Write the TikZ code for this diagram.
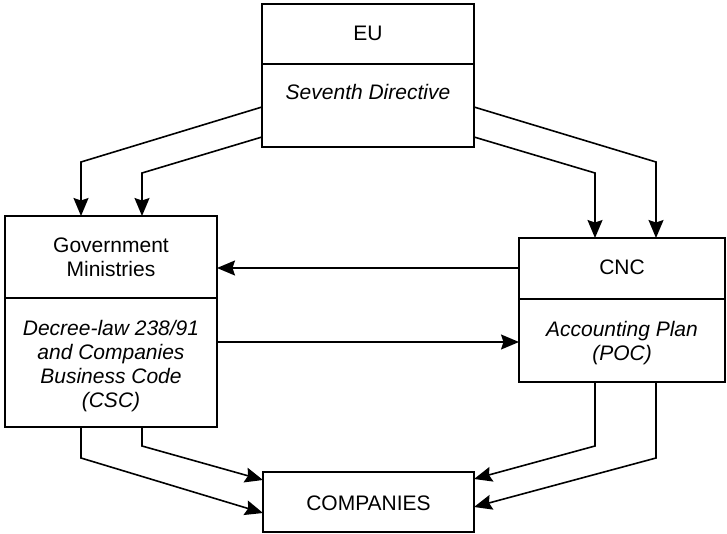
\documentclass[tikz,border=0pt]{standalone}
\usepackage{fontspec}
\setmainfont{Liberation Sans}
\usetikzlibrary{arrows.meta}
\begin{document}
\begin{tikzpicture}[x=1pt,y=-1pt,
  box/.style={draw,line width=1.7pt,inner sep=0pt,outer sep=0pt},
  lbl/.style={inner sep=0pt,align=center,font=\fontsize{21}{24}\selectfont},
  ilbl/.style={lbl,font=\fontsize{21}{24}\selectfont\itshape},
  sep/.style={line width=1.7pt},
  arr/.style={line width=1.6pt,-{Stealth[length=18pt,width=15pt,inset=2.5pt]}}]
\useasboundingbox (0,0) rectangle (727,534);
% boxes
\node[box,minimum width=212pt,minimum height=143pt] (eu) at (368,75.5) {};
\node[box,minimum width=212pt,minimum height=211pt] (gov) at (111,321.5) {};
\node[box,minimum width=206pt,minimum height=144pt] (cnc) at (622,310) {};
\node[box,minimum width=211pt,minimum height=60pt] (comp) at (368.5,502) {};
% dividers
\draw[sep] (eu.west |- 0,64) -- (eu.east |- 0,64);
\draw[sep] (gov.west |- 0,298) -- (gov.east |- 0,298);
\draw[sep] (cnc.west |- 0,299) -- (cnc.east |- 0,299);
% labels
\node[lbl,anchor=base] (eut) at (368,41) {EU};
\node[ilbl,anchor=base] (eud) at (368,100) {Seventh Directive};
\node[lbl] (govt) at (111,257) {Government\\Ministries};
\node[ilbl] (govd) at (111,366) {Decree-law 238/91\\and Companies\\Business Code\\(CSC)};
\node[lbl,anchor=base] (cnct) at (622,274) {CNC};
\node[ilbl] (cncd) at (622,343) {Accounting Plan\\(POC)};
\node[lbl,anchor=base] (compt) at (368.5,510) {COMPANIES};
% EU -> Government
\draw[arr] ([yshift=-31.5pt]eu.west) -- (81,162) -- ([xshift=-30pt]gov.north);
\draw[arr] ([yshift=-61.5pt]eu.west) -- (142,173) -- ([xshift=31pt]gov.north);
% EU -> CNC
\draw[arr] ([yshift=-31.5pt]eu.east) -- (656,162) -- ([xshift=34pt]cnc.north);
\draw[arr] ([yshift=-61.5pt]eu.east) -- (595,173) -- ([xshift=-27pt]cnc.north);
% CNC <-> Government
\draw[arr] ([yshift=42pt]cnc.west) -- ([yshift=42pt]cnc.west -| gov.east);
\draw[arr] ([yshift=-20.5pt]gov.east) -- ([yshift=-20.5pt]gov.east -| cnc.west);
% Government -> Companies
\draw[arr] ([xshift=-30pt]gov.south) -- (81,458) -- ([yshift=-11pt]comp.west);
\draw[arr] ([xshift=31pt]gov.south) -- (142,446) -- ([yshift=22pt]comp.west);
% CNC -> Companies
\draw[arr] ([xshift=-27pt]cnc.south) -- (595,446) -- ([yshift=23pt]comp.east);
\draw[arr] ([xshift=34pt]cnc.south) -- (656,458) -- ([yshift=-5pt]comp.east);
\end{tikzpicture}
\end{document}
